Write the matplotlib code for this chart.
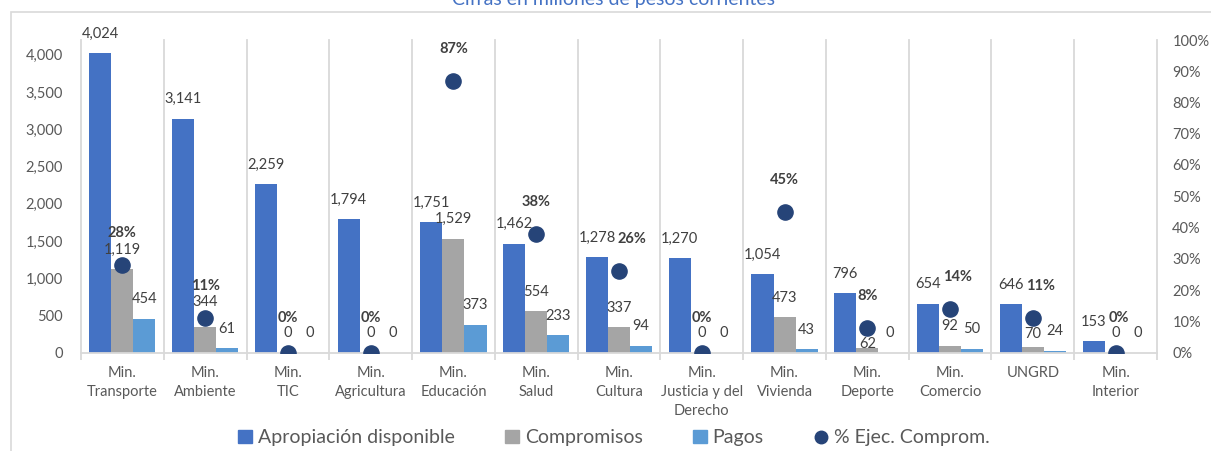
import matplotlib
matplotlib.use("Agg")
import matplotlib.pyplot as plt
from matplotlib.patches import Patch, Rectangle
from matplotlib.lines import Line2D
from matplotlib.transforms import Bbox
from matplotlib.ticker import FuncFormatter, PercentFormatter

plt.rcParams['font.family'] = ['Lato', 'DejaVu Sans']

# datos (millones de pesos)
entidades = ["Min.\nTransporte", "Min.\nAmbiente", "Min.\nTIC", "Min.\nAgricultura",
             "Min.\nEducación", "Min.\nSalud", "Min.\nCultura", "Min.\nJusticia y del\nDerecho",
             "Min.\nVivienda", "Min.\nDeporte", "Min.\nComercio", "UNGRD", "Min.\nInterior"]
apropiacion = [4024, 3141, 2259, 1794, 1751, 1462, 1278, 1270, 1054, 796, 654, 646, 153]
compromisos = [1119, 344, 0, 0, 1529, 554, 337, 0, 473, 62, 92, 70, 0]
pagos = [454, 61, 0, 0, 373, 233, 94, 0, 43, 0, 50, 24, 0]
ejec_comprom = [28, 11, 0, 0, 87, 38, 26, 0, 45, 8, 14, 11, 0]  # %

azul = "#4472C4"
gris = "#A5A5A5"
celeste = "#5B9BD5"
marino = "#264478"
texto = "#595959"
linea = "#D9D9D9"

fig = plt.figure(figsize=(12.11, 4.51), dpi=100)
ax = fig.add_axes([81 / 1211, 1 - 352.5 / 451, (1157 - 81) / 1211, (352.5 - 40) / 451])
ax2 = ax.twinx()

x = list(range(len(entidades)))
w = 0.8 / 3
series = [(apropiacion, azul, -w), (compromisos, gris, 0), (pagos, celeste, w)]
etiquetas = []  # etiquetas de cada serie
for valores, color, desp in series:
    xs = [i + desp for i in x]
    ax.bar(xs, valores, width=w, color=color, zorder=2)
    fila = []
    for xi, v in zip(xs, valores):
        fila.append(ax.annotate(f"{v:,}", (xi, v), xytext=(0, 14), textcoords="offset points",
                                ha="center", va="center", fontsize=10.5, color="#404040"))
    etiquetas.append(fila)

# % ejecucion en eje secundario
pct = [p / 100 for p in ejec_comprom]
ax2.scatter(x, pct, s=120, color=marino, zorder=3)
etq_pct = []
for xi, p in zip(x, ejec_comprom):
    etq_pct.append(ax2.annotate(f"{p}%", (xi, p / 100), xytext=(0, 23), textcoords="offset points",
                                ha="center", va="center", fontsize=10.5, fontweight="bold",
                                color="#404040"))

# lineas verticales entre categorias
for b in range(len(entidades) + 1):
    ax.axvline(b - 0.5, color=linea, lw=1.3, zorder=0, clip_on=False)

ax.set_xlim(-0.5, len(entidades) - 0.5)
ax.set_ylim(0, 4200)
ax.set_yticks(range(0, 4001, 500))
ax.yaxis.set_major_formatter(FuncFormatter(lambda v, _: f"{v:,.0f}"))
ax2.set_ylim(0, 1)
ax2.set_yticks([i / 10 for i in range(11)])
ax2.yaxis.set_major_formatter(PercentFormatter(1, decimals=0))

ax.set_xticks(x)
ax.set_xticklabels(entidades, fontsize=10.5, color=texto, linespacing=1.45)
ax.set_xticks([b - 0.5 for b in range(len(entidades) + 1)], minor=True)
ax.tick_params(axis="x", which="major", length=0, pad=10)
ax.tick_params(axis="x", which="minor", length=5, color=linea, width=1.3)
ax.tick_params(axis="y", length=0, pad=13, labelsize=10.5, labelcolor=texto)
ax2.tick_params(axis="y", length=0, pad=11, labelsize=10.5, labelcolor=texto)

for s in ["top", "left", "right"]:
    ax.spines[s].set_visible(False)
    ax2.spines[s].set_visible(False)
ax.spines["bottom"].set_color(linea)
ax.spines["bottom"].set_linewidth(1.3)
ax2.spines["bottom"].set_visible(False)

# --- evitar que las etiquetas se pisen (como hace Excel) ---
fig.canvas.draw()
r = fig.canvas.get_renderer()
PT = 72 / fig.dpi  # px -> puntos
radio = 8


def mover(ann, centro_y, dx=0):
    """pone el centro de la etiqueta en centro_y (px)"""
    ancla = ann.axes.transData.transform(ann.xy)
    ann.xyann = (dx * PT, (centro_y - ancla[1]) * PT)


for i in x:
    cx, cy = ax2.transData.transform((i, pct[i]))
    marca = Bbox.from_extents(cx - radio, cy - radio, cx + radio, cy + radio)
    comp = etiquetas[1][i]
    bb = comp.get_window_extent(r)
    h = bb.height
    if bb.overlaps(marca):
        tope = ax.transData.transform((i, compromisos[i]))[1]
        if cy - radio - tope >= 0.7 * h:
            mover(comp, cy - radio - 1 - h / 2)  # debajo del punto
        else:
            mover(comp, cy + radio + 1 + h / 2)  # encima del punto
    fig.canvas.draw()
    et = etq_pct[i]
    bc = comp.get_window_extent(r)
    be = et.get_window_extent(r)
    if be.overlaps(bc):
        mover(et, bc.y1 + 1 + be.height / 2)
        fig.canvas.draw()
        be = et.get_window_extent(r)
    ba = etiquetas[0][i].get_window_extent(r)
    if be.overlaps(ba):
        dx = ba.x1 + 2 - be.x0
        mover(et, (be.y0 + be.y1) / 2, dx)

# titulo (recortado arriba) y marco
fig.text(614 / 1211, 1 - 5 / 451, "Cifras en millones de pesos corrientes",
         ha="center", va="baseline", fontsize=14, color=azul)
fig.patches.append(Rectangle((11 / 1211, -0.1), 1.2, 1.1 - 12 / 451, transform=fig.transFigure,
                             fill=False, edgecolor=linea, lw=1.2))

handles = [Patch(color=azul, label="Apropiación disponible"),
           Patch(color=gris, label="Compromisos"),
           Patch(color=celeste, label="Pagos"),
           Line2D([], [], marker="o", ls="", color=marino, markersize=9, label="% Ejec. Comprom.")]
fig.legend(handles=handles, loc="center", bbox_to_anchor=(0.507, 0.029), ncol=4, frameon=False,
           fontsize=14, handlelength=0.7, handleheight=0.7, handletextpad=0.3,
           columnspacing=2.6, labelcolor=texto)

fig.savefig("out.png", dpi=100)
